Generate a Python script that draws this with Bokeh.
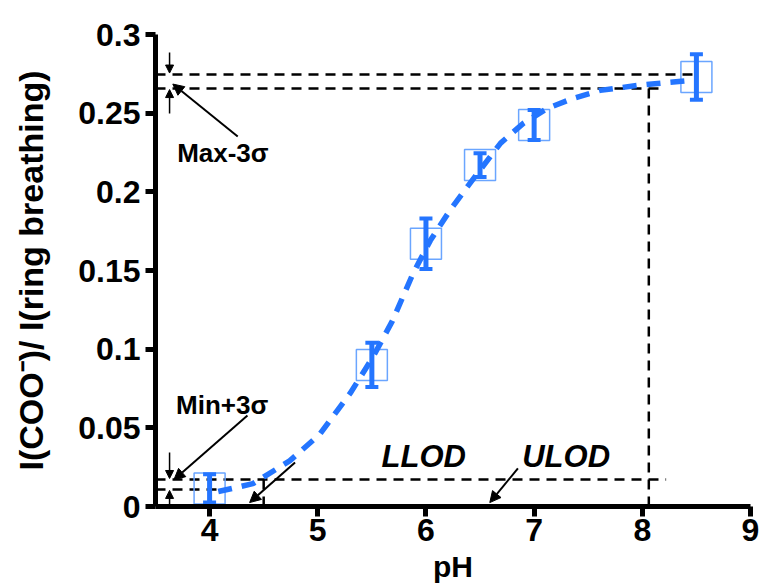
from bokeh.plotting import figure
from bokeh.models import (Range1d, FixedTicker, Whisker, TeeHead, Arrow, NormalHead,
                          Label, ColumnDataSource)
from bokeh.embed import file_html
from bokeh.resources import INLINE

# ---- data ----
ph = [4.0, 5.5, 6.0, 6.5, 7.0, 8.5]
ratio = [0.0115, 0.090, 0.167, 0.217, 0.2425, 0.273]
err = [0.009, 0.014, 0.016, 0.0075, 0.0095, 0.0145]

fit_ph = [4.08, 4.4, 4.74, 5.02, 5.3, 5.51, 5.69, 5.88, 6.04, 6.22, 6.38,
          6.69, 6.9, 7.12, 7.36, 7.61, 7.95, 8.23, 8.44]
fit_ratio = [0.0095, 0.0145, 0.029, 0.046, 0.072, 0.095, 0.118, 0.148, 0.169,
             0.188, 0.203, 0.231, 0.2435, 0.253, 0.2594, 0.2645, 0.2676, 0.2695, 0.2708]

x_ticks = [4, 5, 6, 7, 8, 9]
y_ticks = [0, 0.05, 0.1, 0.15, 0.2, 0.25, 0.3]
y_tick_labels = ["0", "0.05", "0.1", "0.15", "0.2", "0.25", "0.3"]

x_start, x_end = 3.5, 9.0
y_start, y_end = 0.0, 0.3

# guide levels
max_level = 0.2746
max_minus_3s = 0.2657
min_plus_3s = 0.0172
min_level = 0.0108
llod_ph = 4.5
ulod_ph = 8.06
guide_y = [max_level, max_minus_3s, min_plus_3s, min_level]
guide_end = [8.5, 8.2, 8.22, 4.1]

BLUE = "#2475ff"
BOX_BLUE = "#6aa5ff"
FONT = "Liberation Sans"

p = figure(width=759, height=586, x_range=Range1d(x_start, x_end),
           y_range=Range1d(y_start, y_end), output_backend="svg",
           toolbar_location=None, min_border_left=155, min_border_right=9,
           min_border_top=34, min_border_bottom=80)
p.outline_line_color = None
p.xgrid.visible = False
p.ygrid.visible = False
p.background_fill_color = "white"

for ax in (p.xaxis[0], p.yaxis[0]):
    ax.axis_line_width = 5
    ax.axis_line_color = "black"
    ax.major_tick_line_width = 5
    ax.major_tick_line_color = "black"
    ax.major_tick_out = 10
    ax.major_tick_in = 0
    ax.minor_tick_out = 0
    ax.minor_tick_in = 0
    ax.major_label_text_font = FONT
    ax.major_label_text_font_style = "bold"
    ax.major_label_text_font_size = "32px"
    ax.major_label_text_color = "black"
    ax.axis_label_text_font = FONT
    ax.axis_label_text_font_style = "bold"
    ax.axis_label_text_color = "black"

p.xaxis[0].ticker = FixedTicker(ticks=x_ticks)
p.xaxis[0].major_label_standoff = 2
p.xaxis[0].axis_label = "pH"
p.xaxis[0].axis_label_text_font_size = "30px"
p.xaxis[0].axis_label_standoff = 6

p.yaxis[0].ticker = FixedTicker(ticks=y_ticks)
p.yaxis[0].major_label_overrides = {t: s for t, s in zip(y_ticks, y_tick_labels)}
p.yaxis[0].major_label_standoff = 5
p.yaxis[0].axis_label = "I(COO\u207b)/ I(ring breathing)"
p.yaxis[0].axis_label_text_font_size = "34px"
p.yaxis[0].axis_label_standoff = 25

# black dashed guides
gx0 = [x_start] * len(guide_y) + [ulod_ph, llod_ph]
gx1 = guide_end + [ulod_ph, llod_ph]
gy0 = guide_y + [max_minus_3s, min_plus_3s]
gy1 = guide_y + [y_start, y_start]
p.segment(x0=gx0, y0=gy0, x1=gx1, y1=gy1, line_color="black", line_width=2.5,
          line_dash="10 7")

# hollow square markers
p.scatter(ph, ratio, marker="square", size=31, fill_color=None,
          line_color=BOX_BLUE, line_width=1.5)

# error bars
src = ColumnDataSource(dict(base=ph,
                            upper=[r + e for r, e in zip(ratio, err)],
                            lower=[r - e for r, e in zip(ratio, err)]))
w = Whisker(base="base", upper="upper", lower="lower", source=src,
            line_color=BLUE, line_width=5,
            upper_head=TeeHead(size=13, line_color=BLUE, line_width=4),
            lower_head=TeeHead(size=13, line_color=BLUE, line_width=4))
w.level = "glyph"
p.add_layout(w)

# fitted curve
p.line(fit_ph, fit_ratio, line_color=BLUE, line_width=5.5, line_dash="14 10")

# arrows
arrows = [
    (3.63, 0.2886, 3.63, 0.2755),   # down to max
    (3.63, 0.2498, 3.63, 0.2650),   # up to max-3s
    (4.26, 0.2352, 3.66, 0.2685),   # from Max-3s text
    (3.63, 0.0343, 3.63, 0.0178),   # down to min+3s
    (3.63, -0.0045, 3.63, 0.0102),  # up to min
    (4.35, 0.0579, 3.67, 0.0170),   # from Min+3s text
    (4.79, 0.0280, 4.37, 0.0025),   # LLOD
    (6.85, 0.0242, 6.59, 0.0025),   # ULOD
]
for (xa, ya, xb, yb), lw, hs in zip(arrows, [1.5, 1.5, 2, 1.5, 1.5, 2, 2, 2],
                                     [8, 8, 11, 8, 8, 11, 11, 11]):
    p.add_layout(Arrow(x_start=xa, y_start=ya, x_end=xb, y_end=yb,
                       line_color="black", line_width=lw,
                       end=NormalHead(size=hs, fill_color="black", line_color="black",
                                      line_width=1)))

# text annotations
for tx, ty, tt, size, style in [
    (3.70, 0.225, "Max-3\u03c3", "26px", "bold"),
    (3.69, 0.0648, "Min+3\u03c3", "26px", "bold"),
    (5.59, 0.0318, "LLOD", "31px", "bold italic"),
    (6.89, 0.0318, "ULOD", "31px", "bold italic"),
]:
    p.add_layout(Label(x=tx, y=ty, text=tt, text_baseline="middle", text_align="left",
                       text_font=FONT, text_font_style=style, text_font_size=size,
                       text_color="black"))

open("out.html", "w").write(file_html(p, INLINE))
